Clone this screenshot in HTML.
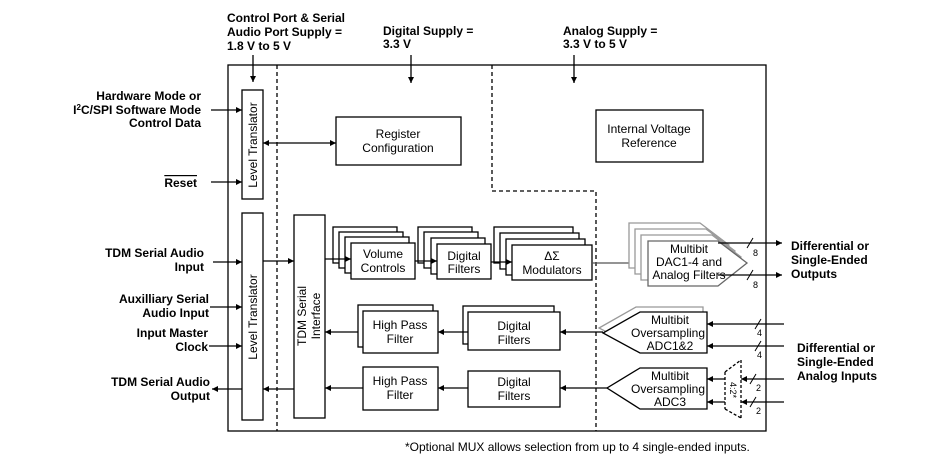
<!DOCTYPE html>
<html><head><meta charset="utf-8"><style>
body{margin:0;background:#fff}
svg{display:block}
text{font-family:"Liberation Sans",Arial,sans-serif;font-size:12px;fill:#000}
.b{font-weight:bold}
</style></head><body>
<svg width="939" height="466" viewBox="0 0 939 466" xmlns="http://www.w3.org/2000/svg">
<defs>
<marker id="a" viewBox="0 0 10 10" refX="10" refY="5" markerWidth="8" markerHeight="6" orient="auto-start-reverse" markerUnits="userSpaceOnUse"><path d="M0,0L10,5L0,10z" fill="#000"/></marker>
</defs>
<g fill="none" stroke="#000" stroke-width="1.3">
<!-- main box -->
<rect x="228" y="65" width="538" height="366"/>
<path d="M277,65V431" stroke-dasharray="4,3"/>
<path d="M492,65V191H596V431" stroke-dasharray="4,3"/>
<!-- supply arrows -->
<path d="M253,55V82" marker-end="url(#a)"/>
<path d="M411,55V83" marker-end="url(#a)"/>
<path d="M574,55V83" marker-end="url(#a)"/>
<!-- level translators -->
<rect x="242" y="90" width="21" height="109"/>
<rect x="242" y="213" width="21" height="207"/>
<rect x="336" y="117" width="125" height="48"/>
<rect x="596" y="110" width="107" height="52"/>
<rect x="294" y="215" width="31" height="203"/>
<!-- left arrows -->
<path d="M211,110H242" marker-end="url(#a)"/>
<path d="M211,182H242" marker-end="url(#a)"/>
<path d="M213,262H242" marker-end="url(#a)"/>
<path d="M263,261H294" marker-end="url(#a)"/>
<path d="M210,307H242" marker-end="url(#a)"/>
<path d="M209,346H242" marker-end="url(#a)"/>
<path d="M242,389H212" marker-end="url(#a)"/>
<path d="M294,389H263" marker-end="url(#a)"/>
<path d="M263,143H336" marker-start="url(#a)" marker-end="url(#a)"/>
<!-- volume stack -->
<g fill="#fff">
<rect x="333" y="227" width="64" height="36"/><rect x="339" y="232" width="64" height="36"/><rect x="345" y="237" width="64" height="36"/><rect x="351" y="243" width="64" height="36"/>
<rect x="418" y="227" width="54" height="36"/><rect x="424" y="232" width="54" height="36"/><rect x="431" y="238" width="54" height="36"/><rect x="437" y="244" width="54" height="35"/>
<rect x="494" y="227" width="79" height="36"/><rect x="500" y="233" width="79" height="36"/><rect x="506" y="239" width="79" height="36"/><rect x="512" y="245" width="80" height="35"/>
<rect x="358" y="305" width="75" height="42"/><rect x="363" y="311" width="75" height="42"/>
<rect x="463" y="306" width="91" height="38"/><rect x="468" y="312" width="92" height="38"/>
<rect x="363" y="367" width="75" height="43"/>
<rect x="468" y="371" width="92" height="36"/>
</g>
<path d="M325,259H351" marker-end="url(#a)"/>
<path d="M415,261H437" marker-end="url(#a)"/>
<path d="M491,262H512" marker-end="url(#a)"/>
<path d="M592,263H648" marker-end="url(#a)" stroke="#555"/>
<path d="M603,332H560" marker-end="url(#a)"/>
<path d="M468,332H438" marker-end="url(#a)"/>
<path d="M358,332H325" marker-end="url(#a)"/>
<path d="M607,388H560" marker-end="url(#a)"/>
<path d="M468,388H438" marker-end="url(#a)"/>
<path d="M363,388H325" marker-end="url(#a)"/>
<!-- DAC stack -->
<g fill="#fff" stroke="#999">
<path d="M629,223H700L729,245L700,268H629Z"/>
<path d="M635,229H706L735,251L706,274H635Z"/>
<path d="M641,235H712L741,257L712,280H641Z"/>
</g>
<path d="M648,241H718L747,263L718,286H648Z" fill="#fff" stroke="#666"/>
<path d="M718,243H782" marker-end="url(#a)"/>
<path d="M718,275H782" marker-end="url(#a)"/>
<path d="M747,248L753,238M747,280L753,270" stroke-width="1"/>
<!-- ADCs -->
<path d="M636,307H703V347H636L599,328Z" fill="#fff" stroke="#999"/>
<path d="M640,312H707V353H640L603,333Z" fill="#fff"/>
<path d="M640,368H707V409H640L607,388Z" fill="#fff"/>
<path d="M784,324H707" marker-end="url(#a)"/>
<path d="M784,346H707" marker-end="url(#a)"/>
<path d="M725,379H707" marker-end="url(#a)"/>
<path d="M725,402H707" marker-end="url(#a)"/>
<path d="M784,379H741" marker-end="url(#a)"/>
<path d="M784,402H741" marker-end="url(#a)"/>
<path d="M741,360V418M725,372V409M725,372L741,360M725,409L741,418" stroke-dasharray="3,2"/>
<path d="M755,329L761,319M755,351L761,341M750,384L756,374M750,407L756,397" stroke-width="1"/>
</g>
<!-- texts -->
<g class="b">
<text class="b" x="227" y="22">Control Port &amp; Serial</text>
<text class="b" x="227" y="36">Audio Port Supply =</text>
<text class="b" x="227" y="50">1.8 V to 5 V</text>
<text class="b" x="383" y="35">Digital Supply =</text>
<text class="b" x="383" y="48">3.3 V</text>
<text class="b" x="563" y="35">Analog Supply =</text>
<text class="b" x="563" y="48">3.3 V to 5 V</text>
<text class="b" x="201" y="100" text-anchor="end">Hardware Mode or</text>
<text class="b" x="201" y="114" text-anchor="end">I<tspan font-size="8" dy="-4">2</tspan><tspan dy="4">C/SPI Software Mode</tspan></text>
<text class="b" x="201" y="127" text-anchor="end">Control Data</text>
<text class="b" x="197" y="187" text-anchor="end" text-decoration="overline">Reset</text>
<text class="b" x="204" y="257" text-anchor="end">TDM Serial Audio</text>
<text class="b" x="204" y="271" text-anchor="end">Input</text>
<text class="b" x="209" y="303" text-anchor="end">Auxilliary Serial</text>
<text class="b" x="209" y="317" text-anchor="end">Audio Input</text>
<text class="b" x="208" y="337" text-anchor="end">Input Master</text>
<text class="b" x="208" y="351" text-anchor="end">Clock</text>
<text class="b" x="210" y="386" text-anchor="end">TDM Serial Audio</text>
<text class="b" x="210" y="400" text-anchor="end">Output</text>
<text class="b" x="791" y="250">Differential or</text>
<text class="b" x="791" y="264">Single-Ended</text>
<text class="b" x="791" y="278">Outputs</text>
<text class="b" x="797" y="352">Differential or</text>
<text class="b" x="797" y="366">Single-Ended</text>
<text class="b" x="797" y="380">Analog Inputs</text>
</g>
<text transform="translate(257,145) rotate(-90)" text-anchor="middle">Level Translator</text>
<text transform="translate(257,317) rotate(-90)" text-anchor="middle">Level Translator</text>
<text transform="translate(306,316) rotate(-90)" text-anchor="middle">TDM Serial</text>
<text transform="translate(320,316) rotate(-90)" text-anchor="middle">Interface</text>
<text x="398" y="138" text-anchor="middle">Register</text>
<text x="398" y="152" text-anchor="middle">Configuration</text>
<text x="649" y="133" text-anchor="middle">Internal Voltage</text>
<text x="649" y="147" text-anchor="middle">Reference</text>
<text x="383" y="258" text-anchor="middle">Volume</text>
<text x="383" y="272" text-anchor="middle">Controls</text>
<text x="464" y="260" text-anchor="middle">Digital</text>
<text x="464" y="273" text-anchor="middle">Filters</text>
<text x="552" y="260" text-anchor="middle">ΔΣ</text>
<text x="552" y="274" text-anchor="middle">Modulators</text>
<text x="400" y="329" text-anchor="middle">High Pass</text>
<text x="400" y="343" text-anchor="middle">Filter</text>
<text x="514" y="330" text-anchor="middle">Digital</text>
<text x="514" y="344" text-anchor="middle">Filters</text>
<text x="400" y="385" text-anchor="middle">High Pass</text>
<text x="400" y="399" text-anchor="middle">Filter</text>
<text x="514" y="386" text-anchor="middle">Digital</text>
<text x="514" y="400" text-anchor="middle">Filters</text>
<text x="689" y="253" text-anchor="middle">Multibit</text>
<text x="689" y="266" text-anchor="middle">DAC1-4 and</text>
<text x="689" y="279" text-anchor="middle">Analog Filters</text>
<text x="670" y="324" text-anchor="middle">Multibit</text>
<text x="668" y="337" text-anchor="middle">Oversampling</text>
<text x="670" y="350" text-anchor="middle">ADC1&amp;2</text>
<text x="670" y="380" text-anchor="middle">Multibit</text>
<text x="668" y="393" text-anchor="middle">Oversampling</text>
<text x="670" y="406" text-anchor="middle">ADC3</text>
<g style="font-size:9px">
<text x="753" y="256" style="font-size:9px">8</text>
<text x="753" y="288" style="font-size:9px">8</text>
<text x="757" y="336" style="font-size:9px">4</text>
<text x="757" y="358" style="font-size:9px">4</text>
<text x="756" y="391" style="font-size:9px">2</text>
<text x="756" y="414" style="font-size:9px">2</text>
<text transform="translate(730,382) rotate(90)" style="font-size:9px">4:2*</text>
</g>
<text x="405" y="451">*Optional MUX allows selection from up to 4 single-ended inputs.</text>
</svg>
</body></html>
